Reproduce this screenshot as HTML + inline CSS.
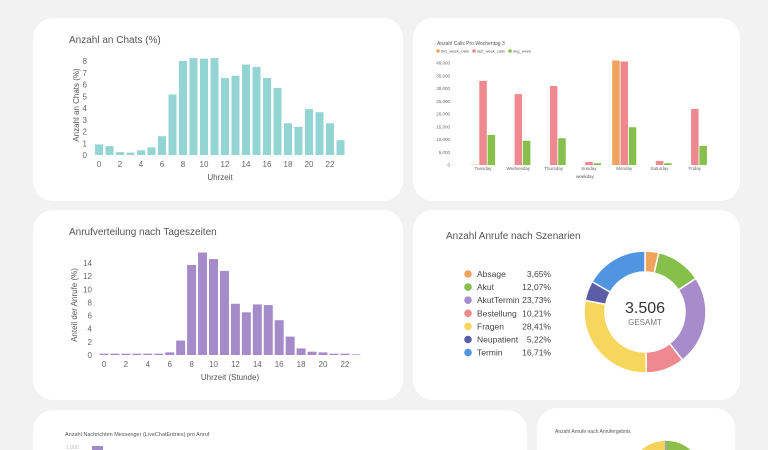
<!DOCTYPE html>
<html><head><meta charset="utf-8"><style>
html,body{margin:0;padding:0;background:#f2f2f2;width:768px;height:450px;overflow:hidden;font-family:"Liberation Sans",sans-serif}
svg{position:absolute;left:0;top:0}
</style></head><body>
<svg id="s" width="768" height="450" viewBox="0 0 768 450">
<rect x="33" y="18" width="370" height="183" rx="20" fill="#fff"/>
<rect x="413" y="18" width="327" height="183" rx="20" fill="#fff"/>
<rect x="33" y="210" width="370" height="190" rx="20" fill="#fff"/>
<rect x="413" y="210" width="327" height="190" rx="20" fill="#fff"/>
<path d="M33,450 V430 A20,20 0 0 1 53,410 H507 A20,20 0 0 1 527,430 V450 Z" fill="#fff"/>
<path d="M537,450 V428 A20,20 0 0 1 557,408 H715 A20,20 0 0 1 735,428 V450 Z" fill="#fff"/>
<g id="c1"></g><g id="c2"></g><g id="c3"></g><g id="c4"></g>
<text x="65" y="436" font-size="5.5" fill="#555">Anzahl Nachrichten Messenger (LiveChatEntries) pro Anruf</text>
<text x="66" y="449" font-size="5" fill="#bbb">1.000</text>
<rect x="92" y="446" width="11" height="4" fill="#a08bc9"/>
<text x="555" y="433" font-size="5" fill="#555">Anzahl Anrufe nach Anrufergebnis</text>
<path d="M665,450 L665,441 A35,35 0 0 0 641.6,450 Z" fill="#f5d35a"/>
<path d="M667,450 L667,441 A35,35 0 0 1 690.4,450 Z" fill="#8dbf4a"/>
<rect x="665" y="441" width="2" height="9" fill="#9aa"/>
</svg>
<script>
const NS="http://www.w3.org/2000/svg";
function mk(p,t,a,txt){const e=document.createElementNS(NS,t);for(const k in a)e.setAttribute(k,a[k]);if(txt!==undefined)e.textContent=txt;p.appendChild(e);return e;}

// Chart 1 data
const chatHours=[0,1,2,3,4,5,6,7,8,9,10,11,12,13,14,15,16,17,18,19,20,21,22,23];
const chatValues=[0.9,0.75,0.25,0.2,0.4,0.65,1.6,5.15,8,8.25,8.2,8.25,6.55,6.75,7.7,7.5,6.55,5.7,2.7,2.4,3.9,3.65,2.7,1.25];
const chatTicks=[0,1,2,3,4,5,6,7,8];
// Chart 3 data
const callHours=[0,1,2,3,4,5,6,7,8,9,10,11,12,13,14,15,16,17,18,19,20,21,22,23];
const callValues=[0.2,0.2,0.2,0.2,0.2,0.2,0.4,2.2,13.7,15.6,14.6,12.8,7.8,6.5,7.7,7.6,5.3,2.8,1,0.5,0.4,0.2,0.2,0.1];
const callTicks=[0,2,4,6,8,10,12,14];
// Chart 2 data
const weekdays=["Tuesday","Wednesday","Thursday","Sunday","Monday","Saturday","Friday"];
const thisWeek=[150,0,0,0,41000,0,0];
const lastWeek=[33000,27800,31000,1200,40600,1600,22000];
const avgWeek=[11800,9500,10500,700,14800,700,7500];
const weekTicks=[0,5000,10000,15000,20000,25000,30000,35000,40000];
// Chart 4 data
const scenarios=["Absage","Akut","AkutTermin","Bestellung","Fragen","Neupatient","Termin"];
const scenarioShares=[3.65,12.07,23.73,10.21,28.41,5.22,16.71];
const scenarioLabels=["3,65%","12,07%","23,73%","10,21%","28,41%","5,22%","16,71%"];
const scenarioColors=["#f0a35e","#86bf4a","#a78bcb","#ee8a8f","#f7d65e","#5b5ea6","#4f95e0"];

function histo(g,name,hours,vals,ticks,o){
  const y=v=>o.y0-v*o.py, x=h=>o.x0+h*o.step;
  mk(g,"text",{x:o.tx,y:o.ty,"font-size":10,fill:"#555",},o.title);
  ticks.forEach(t=>{
    const e=mk(g,"text",{x:o.x0-12,y:y(t)+3,"font-size":8,fill:"#666","text-anchor":"end"},t);
    
    
  });
  hours.forEach((h,i)=>{
    const r=mk(g,"rect",{x:x(h)-o.bw/2,y:y(vals[i]),width:o.bw,height:vals[i]*o.py,fill:o.color});
    
    
    if(h%2===0){
      const e=mk(g,"text",{x:x(h),y:o.y0+12,"font-size":8,fill:"#666","text-anchor":"middle"},h);
      
      
    }
  });
  mk(g,"text",{x:o.xlx,y:o.y0+25,"font-size":8,fill:"#555","text-anchor":"middle",},o.xl);
  mk(g,"text",{x:0,y:0,"font-size":8,fill:"#555","text-anchor":"middle",transform:`translate(${o.ylx},${o.yly}) rotate(-90)`,},o.yl);
}
histo(document.getElementById("c1"),"chats",chatHours,chatValues,chatTicks,
 {x0:99,step:10.5,bw:8,y0:155,py:11.75,color:"#92d5d3",title:"Anzahl an Chats (%)",tx:69,ty:43,xl:"Uhrzeit",xlx:220,yl:"Anzahl an Chats (%)",ylx:79,yly:105});
histo(document.getElementById("c3"),"calls",callHours,callValues,callTicks,
 {x0:104,step:10.95,bw:9,y0:355,py:6.57,color:"#a58bc9",title:"Anrufverteilung nach Tageszeiten",tx:69,ty:235,xl:"Uhrzeit (Stunde)",xlx:230,yl:"Anteil der Anrufe (%)",ylx:77,yly:305});

// Chart 2
(function(){
  const g=document.getElementById("c2");
  const y0=165,py=102/40000,x0=483,gs=35.3,bw=7.5;
  const y=v=>y0-v*py;
  mk(g,"text",{x:437,y:45,"font-size":5,fill:"#555",},"Anzahl Calls Pro Wochentag 3");
  const leg=[["this_week_calls","#f0a35e"],["last_week_calls","#ee8a8f"],["avg_week","#86bf4a"]];
  let lx=438;
  leg.forEach((l,i)=>{
    mk(g,"circle",{cx:lx,cy:51,r:1.8,fill:l[1],});
    mk(g,"text",{x:lx+3,y:52.5,"font-size":4,fill:"#555",},l[0]);
    lx+=[36,36,30][i];
  });
  weekTicks.forEach(t=>{
    const e=mk(g,"text",{x:450,y:y(t)+1.5,"font-size":4.5,fill:"#666","text-anchor":"end"},t.toLocaleString("en-US"));
    
    
  });
  const series=[[thisWeek,"#f0a35e"],[lastWeek,"#ee8a8f"],[avgWeek,"#86bf4a"]];
  weekdays.forEach((d,i)=>{
    const cx=x0+i*gs;
    series.forEach((s,j)=>{
      const v=s[0][i];
      const r=mk(g,"rect",{x:cx-12+j*8.3,y:y(v),width:bw,height:v*py,fill:s[1]});
      
      
    });
    const e=mk(g,"text",{x:cx,y:y0+5,"font-size":4.5,fill:"#666","text-anchor":"middle"},d);
    
    
  });
  mk(g,"text",{x:585,y:178,"font-size":4.5,fill:"#555","text-anchor":"middle",},"weekday");
})();

// Chart 4
(function(){
  const g=document.getElementById("c4");
  mk(g,"text",{x:446,y:239,"font-size":10,fill:"#555",},"Anzahl Anrufe nach Szenarien");
  const cx=645,cy=312,R=61,r=40;
  const tot=scenarioShares.reduce((a,b)=>a+b,0);
  let a0=-Math.PI/2;
  scenarioShares.forEach((v,i)=>{
    const a1=a0+v/tot*2*Math.PI, lg=(a1-a0)>Math.PI?1:0;
    const p=(rad,a)=>[cx+rad*Math.cos(a),cy+rad*Math.sin(a)];
    const [x1,y1]=p(R,a0),[x2,y2]=p(R,a1),[x3,y3]=p(r,a1),[x4,y4]=p(r,a0);
    const e=mk(g,"path",{d:`M${x1},${y1}A${R},${R} 0 ${lg} 1 ${x2},${y2}L${x3},${y3}A${r},${r} 0 ${lg} 0 ${x4},${y4}Z`,fill:scenarioColors[i],stroke:"#fff","stroke-width":1.5});
    
    
    a0=a1;
    const ly=274+i*13.1;
    const d=mk(g,"circle",{cx:468,cy:ly,r:3.8,fill:scenarioColors[i]});
    
    
    const t=mk(g,"text",{x:477,y:ly+3,"font-size":8.5,fill:"#444"},scenarios[i]);
    
    
    const q=mk(g,"text",{x:551,y:ly+3,"font-size":8.5,fill:"#444","text-anchor":"end"},scenarioLabels[i]);
    
    
  });
  mk(g,"text",{x:cx,y:cy+1,"font-size":16,fill:"#333","text-anchor":"middle",},"3.506");
  mk(g,"text",{x:cx,y:cy+13,"font-size":8,fill:"#777","text-anchor":"middle",},"GESAMT");
})();
</script>
</body></html>
